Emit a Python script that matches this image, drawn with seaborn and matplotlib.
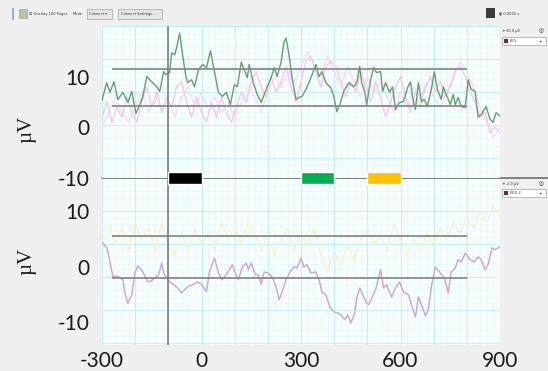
import numpy as np
import seaborn as sns
import matplotlib.pyplot as plt
from matplotlib.patches import Rectangle
from matplotlib.lines import Line2D

# ---- data ----
# top channel: green average + two pink single pages
green_ms = [-300, -286, -276, -264, -252, -237, -222, -210, -198, -186,
            -177, -165, -156, -147, -135, -126, -114, -108, -96, -90,
            -81, -75, -66, -57, -48, -42, -30, -21, -9, 3,
            15, 27, 39, 51, 63, 75, 87, 99, 108, 120,
            126, 138, 144, 156, 168, 180, 195, 210, 219, 228,
            240, 249, 255, 264, 273, 285, 294, 303, 315, 330,
            345, 354, 363, 375, 390, 399, 408, 417, 429, 444,
            459, 468, 477, 483, 492, 498, 510, 519, 528, 540,
            546, 555, 567, 576, 585, 597, 609, 621, 630, 636,
            645, 654, 663, 672, 681, 693, 702, 711, 723, 729,
            738, 750, 759, 765, 774, 783, 795, 804, 813, 825,
            834, 843, 858, 870, 879, 888, 900]
green_uv = [5.3, 8.8, 6.9, 9.0, 5.5, 6.9, 4.9, 7.1, 2.7, 4.5,
            6.1, 10.0, 9.4, 8.8, 8.0, 7.1, 11.0, 10.4, 10.8, 14.7,
            14.3, 15.7, 18.6, 14.3, 10.4, 8.8, 9.4, 8.0, 11.4, 12.4,
            11.8, 15.1, 11.0, 6.9, 6.1, 6.9, 4.5, 8.4, 8.0, 12.9,
            11.8, 9.8, 12.4, 8.8, 6.5, 4.9, 7.5, 9.8, 11.8, 10.0,
            12.9, 16.9, 17.6, 14.3, 9.8, 5.5, 5.9, 6.1, 7.5, 9.8,
            12.4, 10.0, 11.0, 8.8, 7.8, 6.1, 3.1, 4.5, 7.1, 8.8,
            8.0, 8.8, 12.0, 8.8, 7.1, 4.5, 9.4, 11.8, 10.8, 11.0,
            7.1, 8.8, 6.9, 8.0, 3.5, 4.9, 5.1, 7.8, 9.0, 6.1,
            3.5, 8.8, 5.1, 5.5, 4.1, 7.5, 11.0, 7.5, 5.5, 8.0,
            6.5, 4.5, 6.5, 4.5, 5.9, 4.1, 3.9, 9.4, 7.5, 7.1,
            2.0, 2.5, 4.1, 1.6, 1.0, 2.9, 2.2]

pink1_ms = np.arange(-300, 901, 15)
pink1_uv = [2, 5, 1, 4, 2, 6, 3, 1, 5, 8,
            4, 7, 3, 6, 4, 8, 9, 5, 2, 6,
            3, 1, 5, 2, 6, 3, 1, 4, 7, 5,
            9, 11, 8, 6, 10, 7, 9, 12, 8, 5,
            9, 13, 14, 11, 8, 12, 13, 12, 9, 6,
            9, 7, 11, 8, 5, 9, 6, 2, 5, 8,
            10, 6, 3, 7, 4, 8, 10, 7, 9, 6,
            8, 11, 12, 10, 7, 5, 2, 3, -1, 0,
            -1]

pink2_ms = np.arange(-300, 901, 20)
pink2_uv = [0, 3, 6, 3, 1, 4, 7, 3, 5, 8,
            5, 2, 6, 8, 4, 7, 4, 6, 3, 5,
            2, 5, 8, 6, 3, 7, 10, 8, 11, 9,
            12, 15, 12, 10, 14, 11, 8, 12, 9, 6,
            10, 7, 9, 6, 3, 7, 4, 8, 6, 9,
            6, 4, 7, 10, 13, 11, 8, 4, 1, -2,
            0]

# bottom channel: purple average + faint yellow page
purple_ms = [-300, -285, -276, -267, -255, -246, -237, -231, -222, -210,
             -201, -192, -177, -162, -150, -138, -129, -120, -114, -105,
             -96, -84, -72, -60, -51, -42, -27, -12, 0, 15,
             24, 39, 51, 63, 78, 93, 102, 111, 123, 135,
             141, 150, 162, 171, 180, 189, 201, 213, 225, 234,
             243, 255, 267, 279, 288, 300, 309, 318, 330, 345,
             357, 363, 375, 387, 399, 411, 420, 432, 441, 450,
             462, 468, 477, 489, 498, 504, 513, 525, 540, 549,
             558, 573, 585, 597, 609, 624, 636, 645, 654, 663,
             675, 684, 693, 705, 720, 732, 744, 753, 765, 774,
             783, 795, 810, 822, 834, 843, 855, 864, 876, 885, 900]
purple_uv = [4.5, 3.4, 0.9, -1.8, -1.6, -2.0, -2.3, -4.7, -6.5, -5.0,
             -1.1, 0.2, -0.9, -2.7, -2.5, -1.8, -1.4, 0.7, -1.1, -2.0,
             -2.7, -3.2, -3.8, -4.7, -4.1, -3.6, -3.2, -2.7, -3.1, -4.5,
             -0.9, 1.6, -1.1, -2.3, -1.1, 0.4, -1.1, -2.3, 0.0, 0.7,
             -0.5, 0.7, -1.4, -1.4, -3.1, -0.9, -1.1, -1.8, -3.6, -5.9,
             -4.5, -2.3, -0.9, 0.0, -0.2, 1.6, 0.0, 0.4, -1.1, -0.9,
             -2.9, -4.5, -5.0, -7.2, -8.1, -8.3, -8.6, -9.5, -8.6, -10.1,
             -8.3, -5.6, -3.8, -5.4, -6.5, -6.8, -5.6, -4.1, -0.5, -3.8,
             -3.2, -5.4, -3.8, -2.7, -4.5, -5.0, -7.4, -9.0, -5.4, -6.8,
             -8.8, -7.7, -3.6, 0.0, -1.1, -2.0, -4.7, -0.9, -0.2, 1.3,
             0.9, 2.5, 1.3, 0.9, 1.8, 1.3, -0.5, 0.4, 3.4, 3.1, 3.6]

yellow_ms = np.arange(-300, 901, 20)
yellow_uv = [6, 8, 4, 7, 3, 8, 5, 7, 3, 8,
             4, 2, 6, 3, 7, 4, 6, 3, 8, 5,
             7, 4, 8, 6, 3, 6, 2, 5, 7, 3,
             6, 4, 7, 2, -1, 3, 0, 4, 1, 5,
             7, 4, 6, 3, 8, 5, 2, 5, 3, 6,
             4, 7, 5, 8, 6, 9, 7, 10, 8, 11,
             9]

# cursor lines, stimulus marker bars, axis labels
top_ref_uv = [11.5, 4.3]
bot_ref_uv = [5.6, -2.0]
ref_span_ms = [-270, 800]
cursor_ms = -100
marker_start_ms = [-100, 300, 500]
marker_colors = ["black", "#00b050", "#ffc000"]
x_ticks = [-300, 0, 300, 600, 900]
y_ticks = [-10, 0, 10]

sns.set_style("white")
plt.rcParams["font.family"] = ["Lato", "DejaVu Sans"]

W, H = 548, 371
fig = plt.figure(figsize=(W / 100, H / 100), dpi=100)
fig.patch.set_facecolor("#f0f0f0")


def box(x0, y0, x1, y1):
    # pixel box (top-left origin) -> figure fraction rect
    return [x0 / W, 1 - y1 / H, (x1 - x0) / W, (y1 - y0) / H]


ax_top = fig.add_axes(box(102, 26, 500, 178))
ax_bot = fig.add_axes(box(102, 178, 500, 345))
ax_top.set_zorder(3)

panels = [(ax_top, (-10, 20.0), 6.5), (ax_bot, (-14.05, 16.0), 5.94)]
for ax, (lo, hi), gstep in panels:
    ax.set_facecolor("#f7fefe")
    ax.set_xlim(-300, 900)
    ax.set_ylim(lo, hi)
    for s in ax.spines.values():
        s.set_visible(False)
    # grid of the eeg viewer
    for gx in np.arange(-300, 901, 20):
        ax.axvline(gx, color="#e2f7f8", lw=0.45, zorder=0)
    for gy in np.arange(hi, lo, -gstep / 5):
        ax.axhline(gy, color="#e2f7f8", lw=0.45, zorder=0)
    for gx in np.arange(-300, 901, 100):
        ax.axvline(gx, color="#bdeff2", lw=0.6, zorder=0)
    for gy in np.arange(hi, lo, -gstep):
        ax.axhline(gy, color="#bdeff2", lw=0.6, zorder=0)
    ax.axvline(cursor_ms, color="#7c7c7c", lw=1.2, zorder=4)
    ax.set_yticks(y_ticks)
    ax.set_yticklabels([str(v) for v in y_ticks], fontsize=15, color="#1a1a1a")
    ax.tick_params(length=0, pad=9)
    ax.set_ylabel("µV", fontfamily="Liberation Serif", fontsize=15, color="#1a1a1a")

# top channel traces
sns.lineplot(x=pink2_ms, y=pink2_uv, ax=ax_top, color="#f8d8f2", lw=0.9,
             estimator=None, sort=False, zorder=1)
sns.lineplot(x=pink1_ms, y=pink1_uv, ax=ax_top, color="#f3c4ea", lw=0.9,
             estimator=None, sort=False, zorder=1)
sns.lineplot(x=green_ms, y=green_uv, ax=ax_top, color="#6a9c70", lw=1.0,
             estimator=None, sort=False, zorder=2)
ax_top.hlines(top_ref_uv, ref_span_ms[0], ref_span_ms[1], color="#8a8a8a", lw=1.3, zorder=3)

# bottom channel traces
sns.lineplot(x=yellow_ms, y=yellow_uv, ax=ax_bot, color="#f5f2c8", lw=0.9,
             estimator=None, sort=False, zorder=1)
sns.lineplot(x=purple_ms, y=purple_uv, ax=ax_bot, color="#c9a2da", lw=1.0,
             estimator=None, sort=False, zorder=2)
ax_bot.hlines(bot_ref_uv, ref_span_ms[0], ref_span_ms[1], color="#8a8a8a", lw=1.3, zorder=3)

ax_top.set_xticks([])
ax_top.yaxis.set_label_coords(-0.166, 0.32)
ax_bot.set_xticks(x_ticks)
ax_bot.set_xticklabels([str(v) for v in x_ticks], fontsize=15, color="#1a1a1a")
ax_bot.tick_params(axis="x", pad=4)
ax_bot.yaxis.set_label_coords(-0.166, 0.50)

# marker bars straddling the channel divider
ax_top.bar(marker_start_ms, 2.37, width=100, bottom=-11.2, align="edge",
           color=marker_colors, clip_on=False, zorder=6)

# channel divider
fig.add_artist(Line2D([102 / W, 1], [1 - 178 / H] * 2, color="#6e6e6e", lw=1.2))


# ---- toolbar / side-panel chrome ----
def ftxt(x, y, s, size=2.6, **kw):
    fig.text(x / W, 1 - y / H, s, fontsize=size, va="center",
             family="DejaVu Sans", color="#333333", **kw)


def frect(x0, y0, x1, y1, fc, ec="#a0a0a0", lw=0.5):
    fig.add_artist(Rectangle((x0 / W, 1 - y1 / H), (x1 - x0) / W, (y1 - y0) / H,
                             transform=fig.transFigure, fc=fc, ec=ec, lw=lw))


frect(12, 8, 14, 20, "#9bb0c8", ec="none")
frect(19, 9, 27, 18, "#b8c4a8")
ftxt(29, 14, "☑ Overlay 100 Pages")
ftxt(73, 14, "Mode")
frect(87, 9, 112, 19, "#e6e6e6")
ftxt(89, 14, "Connect ▾")
frect(118, 9, 162, 19, "#e6e6e6")
ftxt(121, 14, "Connect Settings...")
frect(486, 8, 495, 18, "#3c3c3c", ec="none")
ftxt(499, 13, "◉ 0.0025 s")

ftxt(503, 31, "▾ 10.0 µV")
ftxt(539, 31, "◎", size=4)
frect(502, 37, 546, 45, "white")
frect(504, 39, 508, 43, "#7a2040", ec="none")
ftxt(510, 41, "EEG")
ftxt(540, 41, "▾")
ftxt(503, 184, "▾ -2.0 µV")
ftxt(539, 184, "◎", size=4)
frect(502, 189, 546, 197, "white")
frect(504, 191, 508, 195, "#7a2040", ec="none")
ftxt(510, 193, "EEG 2")
ftxt(540, 193, "▾")

fig.savefig("out.png", dpi=100, facecolor=fig.get_facecolor())
